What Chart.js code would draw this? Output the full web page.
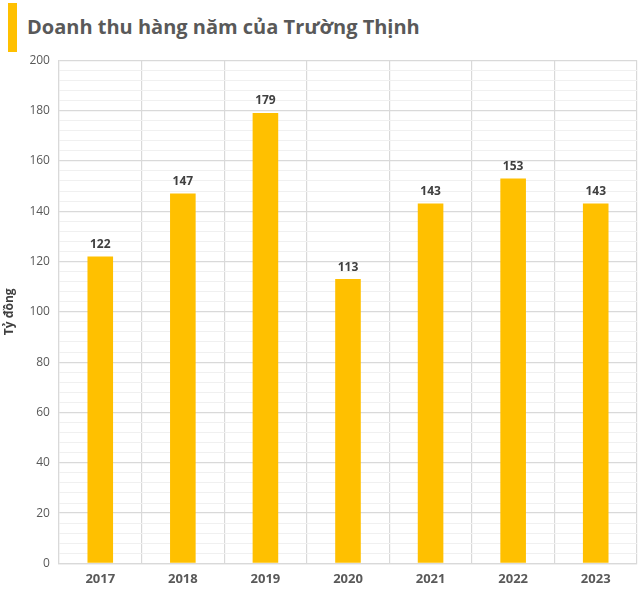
<!DOCTYPE html>
<html>
<head>
<meta charset="utf-8">
<script src="https://cdn.jsdelivr.net/npm/chart.js@4"></script>
<style>
  html, body { margin: 0; padding: 0; background: #fff; overflow: hidden; }
  #wrap { position: relative; width: 640px; height: 594px; overflow: hidden; }
  #head { position: absolute; left: 8px; top: 3px; height: 49px; border-left: 9px solid #ffc000; }
  #head span { position: absolute; left: 10px; top: 10px; white-space: nowrap;
    font: bold 20px "Open Sans", sans-serif; color: #595959; }
  #box { position: absolute; left: 0; top: 44px; width: 640px; height: 555px; }
</style>
</head>
<body>
<div id="wrap">
  <div id="head"><span>Doanh thu hàng năm của Trường Thịnh</span></div>
  <div id="box"><canvas id="myChart"></canvas></div>
</div>
<script>
var years = ['2017', '2018', '2019', '2020', '2021', '2022', '2023'];
var revenue = [122, 147, 179, 113, 143, 153, 143];
var axisTitle = 'Tỷ đồng';

// values written above each bar
var barLabels = {
  id: 'barLabels',
  afterDatasetsDraw: function(chart) {
    var ctx = chart.ctx;
    var meta = chart.getDatasetMeta(0);
    ctx.save();
    ctx.font = 'bold 12px "Open Sans", sans-serif';
    ctx.fillStyle = '#404040';
    ctx.textAlign = 'center';
    ctx.textBaseline = 'bottom';
    meta.data.forEach(function(bar, i) {
      ctx.fillText(revenue[i], bar.x, bar.y - 6);
    });
    ctx.restore();
  }
};

var ctx = document.getElementById('myChart').getContext('2d');
var chart = new Chart(ctx, {
  type: 'bar',
  data: {
    labels: years,
    datasets: [{
      data: revenue,
      backgroundColor: '#ffc000',
      borderWidth: 0,
      barPercentage: 0.31,
      categoryPercentage: 1.0
    }]
  },
  options: {
    responsive: true,
    maintainAspectRatio: false,
    animation: false,
    layout: { padding: { top: 10, right: 3, left: 2, bottom: 4 } },
    plugins: { legend: { display: false }, tooltip: { enabled: false } },
    scales: {
      x: {
        grid: { color: '#d9d9d9', lineWidth: 1.2, offset: true, drawTicks: false },
        border: { color: '#d9d9d9', width: 1.2 },
        ticks: { color: '#595959', padding: 8, font: { family: 'Open Sans', size: 13, weight: 'bold' } }
      },
      y: {
        min: 0,
        max: 200,
        grid: {
          drawTicks: false,
          color: function(c) { return c.tick && c.tick.value % 20 === 0 ? '#d9d9d9' : '#f0f0f0'; },
          lineWidth: function(c) { return c.tick && c.tick.value % 20 === 0 ? 1.2 : 1; }
        },
        border: { color: '#d9d9d9', width: 1.2 },
        ticks: {
          stepSize: 4,
          autoSkip: false,
          padding: 9,
          color: '#595959',
          font: { family: 'Open Sans', size: 12 },
          callback: function(v) { return v % 20 === 0 ? v : ''; }
        },
        title: {
          display: true,
          text: axisTitle,
          color: '#404040',
          padding: { top: 0, bottom: 4 },
          font: { family: 'Open Sans', size: 12, weight: 'bold' }
        }
      }
    }
  },
  plugins: [barLabels]
});
</script>
</body>
</html>
